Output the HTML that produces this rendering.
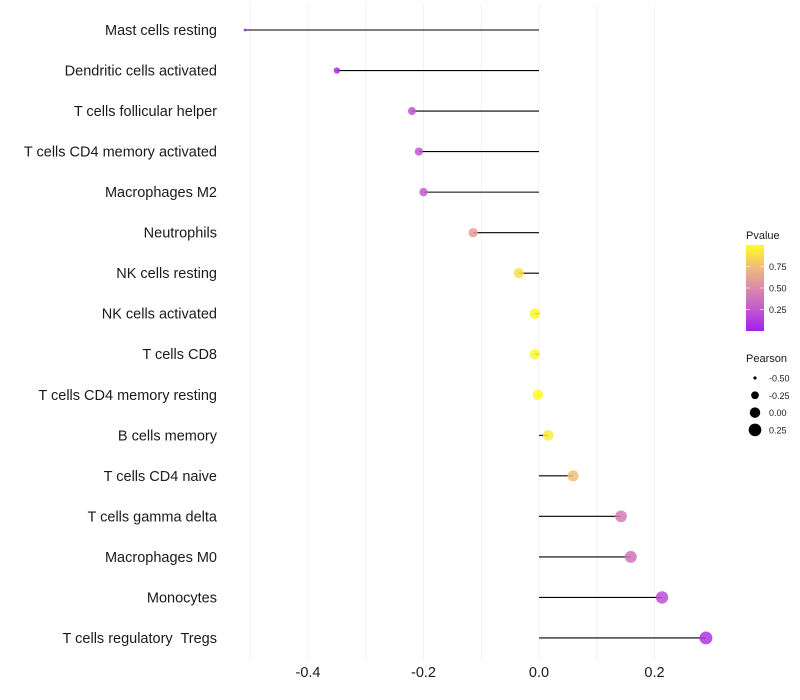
<!DOCTYPE html>
<html><head><meta charset="utf-8"><style>body{margin:0;background:#fff}svg{display:block;font-family:"Liberation Sans",sans-serif}text{white-space:pre}</style></head>
<body>
<svg id="chart" width="800" height="700" xmlns="http://www.w3.org/2000/svg"></svg>
<script>
const categories=["Mast cells resting","Dendritic cells activated","T cells follicular helper","T cells CD4 memory activated","Macrophages M2","Neutrophils","NK cells resting","NK cells activated","T cells CD8","T cells CD4 memory resting","B cells memory","T cells CD4 naive","T cells gamma delta","Macrophages M0","Monocytes","T cells regulatory  Tregs"];
const pearson=[-0.509,-0.35,-0.22,-0.208,-0.2,-0.114,-0.035,-0.007,-0.007,-0.002,0.016,0.059,0.142,0.159,0.213,0.289];
const pvalue=[0.01,0.05,0.22,0.24,0.27,0.6,0.88,0.98,0.98,0.99,0.93,0.75,0.42,0.38,0.2,0.1];
const xTicks=[-0.4,-0.2,0.0,0.2];
const xTickLabels=["-0.4","-0.2","0.0","0.2"];
const gridVals=[-0.5,-0.4,-0.3,-0.2,-0.1,0,0.1,0.2];
const legendP=[0.25,0.5,0.75];
const legendPLabels=["0.25","0.50","0.75"];
const legendS=[-0.5,-0.25,0,0.25];
const legendSLabels=["-0.50","-0.25","0.00","0.25"];
const NS="http://www.w3.org/2000/svg",svg=document.getElementById('chart');
const x=v=>539+v*577.5, y=i=>30+i*40.53, r=v=>Math.sqrt(Math.max(0.3,50*(v+0.55)));
const stops=[[0,[160,32,240]],[0.25,[192,90,208]],[0.5,[220,138,168]],[0.75,[240,190,120]],[1,[255,253,32]]];
function col(p){for(let k=1;k<stops.length;k++){if(p<=stops[k][0]){const a=stops[k-1],b=stops[k],t=(p-a[0])/(b[0]-a[0]);return 'rgb('+a[1].map((c,j)=>Math.round(c+(b[1][j]-c)*t)).join(',')+')';}}return 'rgb(255,253,32)';}
function mk(t,at,p){const e=document.createElementNS(NS,t);for(const k in at)e.setAttribute(k,at[k]);(p||svg).appendChild(e);return e;}
gridVals.forEach(v=>{const l=mk('line',{x1:x(v),x2:x(v),y1:5,y2:660,stroke:'#f2f2f2','stroke-width':1});

});
categories.forEach((c,i)=>{
const t=mk('text',{x:217,y:y(i)+5,'text-anchor':'end','font-size':14.5,fill:'#1a1a1a'});t.textContent=c;


const l=mk('line',{x1:x(0),x2:x(pearson[i]),y1:y(i),y2:y(i),stroke:'#000','stroke-width':1.1});


const d=mk('circle',{cx:x(pearson[i]),cy:y(i),r:r(pearson[i]),fill:col(pvalue[i]),'fill-opacity':0.85});


});
xTicks.forEach((v,i)=>{const t=mk('text',{x:x(v),y:677,'text-anchor':'middle','font-size':14.5,fill:'#1a1a1a'});t.textContent=xTickLabels[i];

});
const lt=mk('text',{x:746,y:239,'font-size':11,fill:'#1a1a1a'});lt.textContent='Pvalue';


const defs=mk('defs',{});const g=mk('linearGradient',{id:'pg',x1:0,y1:1,x2:0,y2:0},defs);
stops.forEach(s=>mk('stop',{offset:s[0],'stop-color':col(s[0])},g));
const cb=mk('rect',{x:746,y:245,width:18,height:86,fill:'url(#pg)'});


const py=p=>331-p*86;
legendP.forEach((p,i)=>{mk('line',{x1:746,x2:750,y1:py(p),y2:py(p),stroke:'#fff','stroke-opacity':0.6});mk('line',{x1:760,x2:764,y1:py(p),y2:py(p),stroke:'#fff','stroke-opacity':0.6});
const t=mk('text',{x:769,y:py(p)+3.5,'font-size':9,fill:'#1a1a1a'});t.textContent=legendPLabels[i];

});
const st=mk('text',{x:746,y:362,'font-size':11,fill:'#1a1a1a'});st.textContent='Pearson';


legendS.forEach((v,i)=>{const cy=378+i*17.3;const c=mk('circle',{cx:755,cy:cy,r:r(v),fill:'#000'});


const t=mk('text',{x:769,y:cy+3.5,'font-size':9,fill:'#1a1a1a'});t.textContent=legendSLabels[i];

});
</script>
</body></html>
